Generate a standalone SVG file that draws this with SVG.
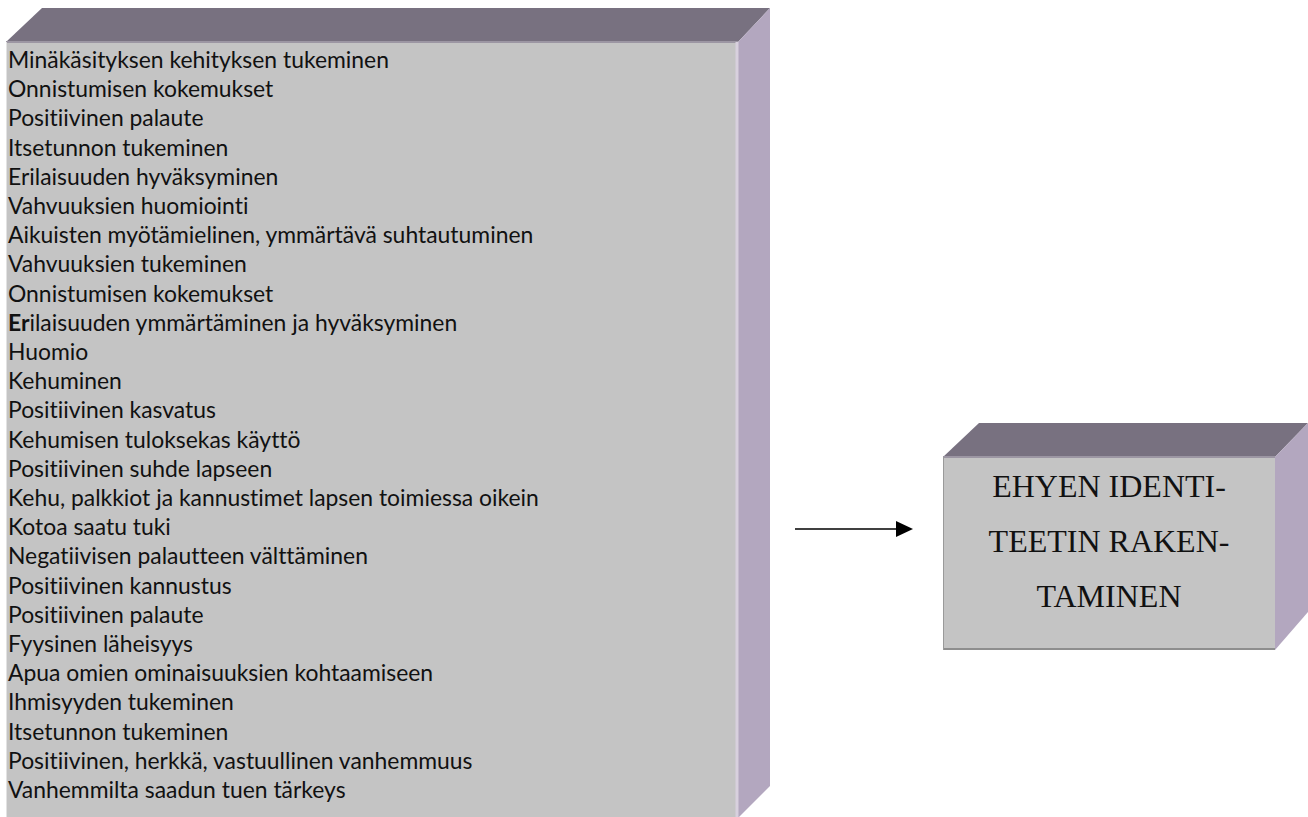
<svg xmlns="http://www.w3.org/2000/svg" width="1308" height="817" viewBox="0 0 1308 817">
<style>
.front{fill:#c4c4c4}
.top{fill:#787180}
.side{fill:#b3a7bf}
.list{font-family:Lato,"Liberation Sans",sans-serif;font-size:22.9px;fill:#111;font-variant-ligatures:none;font-feature-settings:"liga" 0}
.big{font-family:"Liberation Serif",serif;font-size:32px;fill:#111;text-anchor:middle}
</style>
<rect width="1308" height="817" fill="#fff"/>
<g id="list-box">
<polygon class="top" points="6,42 42,8 770,8 738,42"/>
<polygon class="side" points="738,42 770,8 770,786 738,818"/>
<rect class="front" x="6" y="42" width="732" height="776"/>
<line x1="6" y1="42" x2="738" y2="42" stroke="#9c96a3" stroke-width="2"/>
<line x1="737" y1="42" x2="737" y2="818" stroke="#d8d0de" stroke-width="3"/>
<line x1="6.5" y1="42" x2="6.5" y2="818" stroke="#e2e2e2" stroke-width="1"/>
<text class="list">
<tspan x="8" y="68">Minäkäsityksen kehityksen tukeminen</tspan>
<tspan x="8" y="97.2">Onnistumisen kokemukset</tspan>
<tspan x="8" y="126.4">Positiivinen palaute</tspan>
<tspan x="8" y="155.6">Itsetunnon tukeminen</tspan>
<tspan x="8" y="184.8">Erilaisuuden hyväksyminen</tspan>
<tspan x="8" y="214">Vahvuuksien huomiointi</tspan>
<tspan x="8" y="243.2">Aikuisten myötämielinen, ymmärtävä suhtautuminen</tspan>
<tspan x="8" y="272.4">Vahvuuksien tukeminen</tspan>
<tspan x="8" y="301.6">Onnistumisen kokemukset</tspan>
<tspan x="8" y="330.8"><tspan font-weight="bold">Er</tspan>ilaisuuden ymmärtäminen ja hyväksyminen</tspan>
<tspan x="8" y="360">Huomio</tspan>
<tspan x="8" y="389.2">Kehuminen</tspan>
<tspan x="8" y="418.4">Positiivinen kasvatus</tspan>
<tspan x="8" y="447.6">Kehumisen tuloksekas käyttö</tspan>
<tspan x="8" y="476.8">Positiivinen suhde lapseen</tspan>
<tspan x="8" y="506">Kehu, palkkiot ja kannustimet lapsen toimiessa oikein</tspan>
<tspan x="8" y="535.2">Kotoa saatu tuki</tspan>
<tspan x="8" y="564.4">Negatiivisen palautteen välttäminen</tspan>
<tspan x="8" y="593.6">Positiivinen kannustus</tspan>
<tspan x="8" y="622.8">Positiivinen palaute</tspan>
<tspan x="8" y="652">Fyysinen läheisyys</tspan>
<tspan x="8" y="681.2">Apua omien ominaisuuksien kohtaamiseen</tspan>
<tspan x="8" y="710.4">Ihmisyyden tukeminen</tspan>
<tspan x="8" y="739.6">Itsetunnon tukeminen</tspan>
<tspan x="8" y="768.8">Positiivinen, herkkä, vastuullinen vanhemmuus</tspan>
<tspan x="8" y="798">Vanhemmilta saadun tuen tärkeys</tspan>
</text>
</g>
<g id="connectors">
<line x1="795" y1="529" x2="898" y2="529" stroke="#000" stroke-width="1.5"/>
<polygon points="896,521 913,529 896,537" fill="#000"/>
</g>
<g id="result-box">
<polygon class="top" points="943,457 979,423 1308,423 1275,457"/>
<polygon class="side" points="1275,457 1308,423 1308,612 1275,650"/>
<rect class="front" x="943" y="457" width="332" height="193"/>
<line x1="943" y1="457" x2="1275" y2="457" stroke="#9c96a3" stroke-width="2"/>
<line x1="943" y1="649" x2="1275" y2="649" stroke="#8e8e8e" stroke-width="2"/>
<line x1="943.5" y1="457" x2="943.5" y2="650" stroke="#9a9a9a" stroke-width="1"/>
<text class="big" x="1109" y="497">EHYEN IDENTI-</text>
<text class="big" x="1109" y="552">TEETIN RAKEN-</text>
<text class="big" x="1109" y="607">TAMINEN</text>
</g>
</svg>
